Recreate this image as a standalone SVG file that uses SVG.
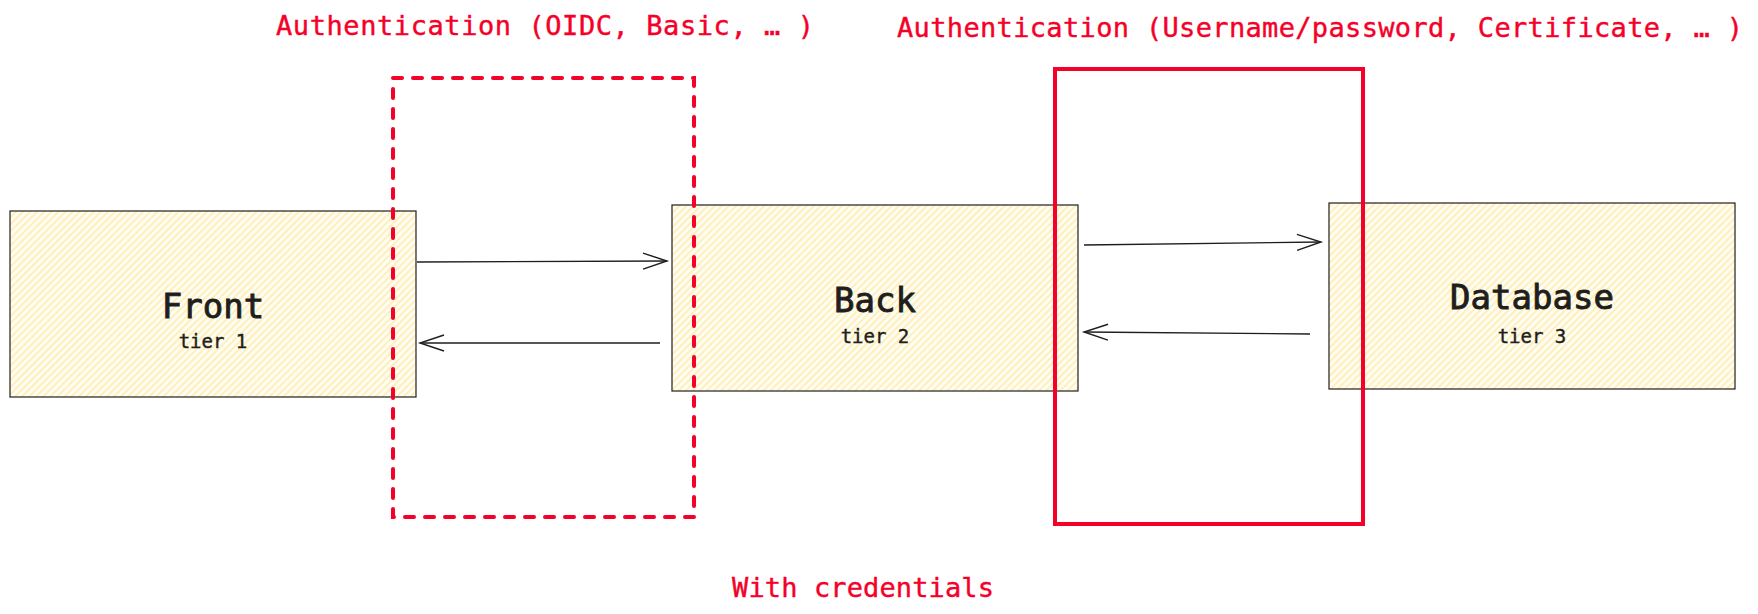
<svg xmlns="http://www.w3.org/2000/svg" width="1758" height="614" viewBox="0 0 1758 614">
<style>
.node{fill:url(#hatch);stroke:#1e1e1e;stroke-width:1.2}
.title{font-family:"DejaVu Sans Mono","Liberation Mono",monospace;font-size:34px;fill:#1e1e1e;stroke:#1e1e1e;stroke-width:0.9;text-anchor:middle}
.sub{font-family:"DejaVu Sans Mono","Liberation Mono",monospace;font-size:19px;fill:#1e1e1e;stroke:#1e1e1e;stroke-width:0.4;text-anchor:middle}
.red{font-family:"DejaVu Sans Mono","Liberation Mono",monospace;font-size:27px;fill:#f50028;stroke:#f50028;stroke-width:0.4}
.conn{fill:none;stroke:#1e1e1e;stroke-width:1.4;marker-end:url(#arr)}
.zone{fill:none;stroke:#f50028;stroke-width:4}
</style>
<defs>
<pattern id="hatch" patternUnits="userSpaceOnUse" width="5" height="5" patternTransform="rotate(45)">
<rect width="5" height="5" fill="#fffdf3"/>
<line x1="1" y1="0" x2="1" y2="5" stroke="#ffe48a" stroke-width="1.1"/>
</pattern>
<marker id="arr" markerUnits="userSpaceOnUse" markerWidth="30" markerHeight="22" viewBox="-27 -11 30 22" refX="0" refY="0" orient="auto">
<path d="M-24,-8 L0,0 L-24,8" fill="none" stroke="#1e1e1e" stroke-width="1.4"/>
</marker>
</defs>
<rect width="1758" height="614" fill="#ffffff"/>
<g id="front">
<rect class="node" x="10" y="211" width="406" height="186"/>
<text class="title" x="213" y="318">Front</text>
<text class="sub" x="213" y="348">tier 1</text>
</g>
<g id="back">
<rect class="node" x="672" y="205" width="406" height="186"/>
<text class="title" x="875" y="312">Back</text>
<text class="sub" x="875" y="343">tier 2</text>
</g>
<g id="database">
<rect class="node" x="1329" y="203" width="406" height="186"/>
<text class="title" x="1532" y="309">Database</text>
<text class="sub" x="1532" y="343">tier 3</text>
</g>
<g id="connectors">
<path class="conn" d="M417,262 L667,261"/>
<path class="conn" d="M660,343 L420,343"/>
<path class="conn" d="M1084,245 L1321,242"/>
<path class="conn" d="M1310,334 L1084,332"/>
</g>
<g id="zone-front-back">
<rect class="zone" x="393" y="78" width="301" height="439" stroke-dasharray="9 11" stroke-linecap="round"/>
<text class="red" x="276" y="35" textLength="538" lengthAdjust="spacing">Authentication (OIDC, Basic, … )</text>
</g>
<g id="zone-back-db">
<rect class="zone" x="1055" y="69" width="308" height="455"/>
<text class="red" x="897" y="37" textLength="846" lengthAdjust="spacing">Authentication (Username/password, Certificate, … )</text>
</g>
<g id="note">
<text class="red" x="732" y="597" textLength="262" lengthAdjust="spacing">With credentials</text>
</g>
</svg>
